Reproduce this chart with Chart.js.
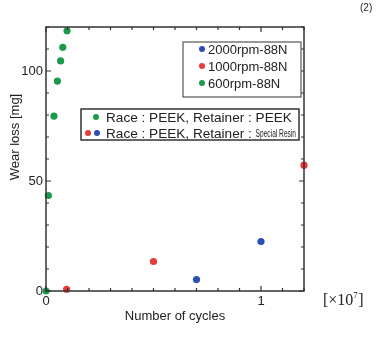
<!DOCTYPE html>
<html>
<head>
<meta charset="utf-8">
<script src="https://cdn.jsdelivr.net/npm/chart.js@4.4.0/dist/chart.umd.min.js"></script>
<style>
  html, body { margin: 0; padding: 0; background: #ffffff; }
  #wrap { width: 383px; height: 338px; }
</style>
</head>
<body>
<div id="wrap"><canvas id="wearChart" width="383" height="338"></canvas></div>
<script>
// Wear loss vs number of cycles (x in units of 1e7)
const seriesLabels = ["2000rpm-88N", "1000rpm-88N", "600rpm-88N"];
const seriesColors = ["#2c4fb3", "#e8393b", "#1b9a4b"];

const rpm2000X = [0.70, 1.00];
const rpm2000Y = [5.2, 22.5];
const rpm1000X = [0.096, 0.50, 1.20];
const rpm1000Y = [0.8, 13.4, 57.2];
const rpm600X = [0, 0.011, 0.037, 0.053, 0.068, 0.078, 0.098];
const rpm600Y = [0, 43.4, 79.5, 95.4, 104.6, 110.8, 118.3];

const xLabelValues = [0, 1];
const yLabelValues = [0, 50, 100];

const FONT = "'Liberation Sans', Arial, sans-serif";

function toPoints(xs, ys) {
    return xs.map((x, i) => ({ x: x, y: ys[i] }));
}

const isLabel = (v, list) => list.some((l) => Math.abs(v - l) < 1e-9);

// frame, inward ticks, legend boxes and extra text
const decorPlugin = {
    id: "decor",
    beforeDraw(chart) {
        const ctx = chart.ctx;
        ctx.save();
        ctx.fillStyle = "#fefefe";
        ctx.fillRect(0, 0, chart.width, chart.height);
        ctx.restore();
    },
    afterDraw(chart) {
        const ctx = chart.ctx;
        const a = chart.chartArea;
        const xs = chart.scales.x;
        const ys = chart.scales.y;
        ctx.save();
        ctx.strokeStyle = "#333";
        ctx.lineWidth = 1.5;
        ctx.strokeRect(a.left, a.top, a.right - a.left, a.bottom - a.top);

        // ticks pointing inside, all four sides
        ctx.lineWidth = 1.2;
        ctx.beginPath();
        xs.ticks.forEach((t) => {
            const px = xs.getPixelForValue(t.value);
            const len = isLabel(t.value, xLabelValues) ? 5 : 3;
            ctx.moveTo(px, a.bottom);
            ctx.lineTo(px, a.bottom - len);
            ctx.moveTo(px, a.top);
            ctx.lineTo(px, a.top + len);
        });
        ys.ticks.forEach((t) => {
            const py = ys.getPixelForValue(t.value);
            const len = isLabel(t.value, yLabelValues) ? 5 : 3;
            ctx.moveTo(a.left, py);
            ctx.lineTo(a.left + len, py);
            ctx.moveTo(a.right, py);
            ctx.lineTo(a.right - len, py);
        });
        ctx.stroke();

        // legend box 1
        ctx.fillStyle = "#ffffff";
        ctx.fillRect(183, 42, 118, 55);
        ctx.strokeStyle = "#555";
        ctx.lineWidth = 1.2;
        ctx.strokeRect(183, 42, 118, 55);
        ctx.font = "13px " + FONT;
        ctx.textBaseline = "middle";
        ctx.textAlign = "left";
        const rows = [49, 66, 83];
        chart.data.datasets.forEach((ds, i) => {
            ctx.fillStyle = ds.backgroundColor;
            ctx.beginPath();
            ctx.arc(202, rows[i], 3, 0, Math.PI * 2);
            ctx.fill();
            ctx.fillStyle = "#222";
            ctx.fillText(ds.label, 208, rows[i] + 1);
        });

        // legend box 2
        ctx.fillStyle = "#ffffff";
        ctx.fillRect(81, 109, 218, 31);
        ctx.strokeStyle = "#333";
        ctx.lineWidth = 1.5;
        ctx.strokeRect(81, 109, 218, 31);
        ctx.fillStyle = seriesColors[2];
        ctx.beginPath();
        ctx.arc(96, 117, 3, 0, Math.PI * 2);
        ctx.fill();
        ctx.fillStyle = seriesColors[1];
        ctx.beginPath();
        ctx.arc(88, 133, 3, 0, Math.PI * 2);
        ctx.fill();
        ctx.fillStyle = seriesColors[0];
        ctx.beginPath();
        ctx.arc(97, 133, 3, 0, Math.PI * 2);
        ctx.fill();
        ctx.fillStyle = "#222";
        ctx.font = "13.6px " + FONT;
        ctx.fillText("Race : PEEK, Retainer : PEEK", 106, 118);
        const head = "Race : PEEK, Retainer : ";
        ctx.fillText(head, 106, 134);
        const start = 106 + ctx.measureText(head).width;
        // condensed small text squeezed into the rest of the box
        ctx.save();
        ctx.font = "10px " + FONT;
        const sw = ctx.measureText("Special Resin").width;
        ctx.translate(start, 134);
        ctx.scale(Math.min(1, (296 - start) / sw), 1);
        ctx.fillText("Special Resin", 0, 0);
        ctx.restore();

        // y axis title
        ctx.save();
        ctx.translate(15, 137);
        ctx.rotate(-Math.PI / 2);
        ctx.textAlign = "center";
        ctx.font = "13px " + FONT;
        ctx.fillText("Wear loss [mg]", 0, 0);
        ctx.restore();

        // unit and figure number
        ctx.textAlign = "left";
        ctx.font = "16px 'Liberation Serif', serif";
        ctx.fillText("[\u00d710", 323, 301);
        const uw = ctx.measureText("[\u00d710").width;
        ctx.font = "9px 'Liberation Serif', serif";
        ctx.fillText("7", 323 + uw, 296);
        ctx.font = "16px 'Liberation Serif', serif";
        ctx.fillText("]", 323 + uw + 5, 301);
        ctx.font = "10px " + FONT;
        ctx.fillText("(2)", 360, 8);
        ctx.restore();
    },
};

const ctx = document.getElementById("wearChart").getContext("2d");
const wearChart = new Chart(ctx, {
    type: "scatter",
    data: {
        datasets: [
            { label: seriesLabels[0], data: toPoints(rpm2000X, rpm2000Y), backgroundColor: seriesColors[0] },
            { label: seriesLabels[1], data: toPoints(rpm1000X, rpm1000Y), backgroundColor: seriesColors[1] },
            { label: seriesLabels[2], data: toPoints(rpm600X, rpm600Y), backgroundColor: seriesColors[2] },
        ].map((ds) => Object.assign(ds, {
            pointRadius: 3.6,
            borderWidth: 0,
            clip: false,
        })),
    },
    options: {
        responsive: false,
        animation: false,
        layout: { padding: { left: 0, right: 79, top: 27, bottom: 0 } },
        plugins: { legend: { display: false }, tooltip: { enabled: false } },
        scales: {
            x: {
                type: "linear",
                min: 0,
                max: 1.2,
                grid: { display: false, drawTicks: false },
                border: { display: false },
                ticks: {
                    stepSize: 0.1,
                    autoSkip: false,
                    maxRotation: 0,
                    padding: 3,
                    color: "#222",
                    font: { family: FONT, size: 13 },
                    callback: (v) => (isLabel(v, xLabelValues) ? String(Math.round(v)) : ""),
                },
                title: {
                    display: true,
                    text: "Number of cycles",
                    color: "#222",
                    font: { family: FONT, size: 13 },
                    padding: { top: 2, bottom: 14 },
                },
                afterFit: (scale) => { scale.height = 47; },
            },
            y: {
                type: "linear",
                min: 0,
                max: 120,
                grid: { display: false, drawTicks: false },
                border: { display: false },
                ticks: {
                    stepSize: 10,
                    autoSkip: false,
                    padding: 3,
                    color: "#222",
                    font: { family: FONT, size: 13 },
                    callback: (v) => (isLabel(v, yLabelValues) ? String(v) : ""),
                },
                afterFit: (scale) => { scale.width = 46; },
            },
        },
    },
    plugins: [decorPlugin],
});
</script>
</body>
</html>
